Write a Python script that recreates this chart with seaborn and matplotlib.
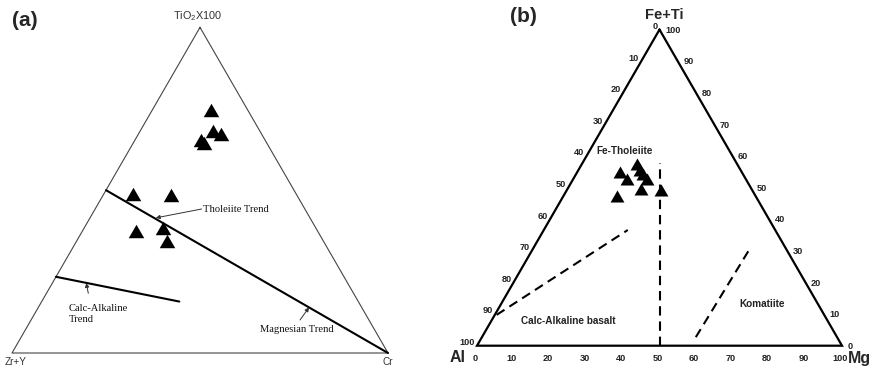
import numpy as np
import pandas as pd
import matplotlib
matplotlib.use("Agg")
import matplotlib.pyplot as plt
import seaborn as sns

# ---------------- data ----------------
# Panel (a): TiO2x100 - (Zr+Y) - Cr  (percent)
a_ti = [74.5, 68.3, 67.3, 65.4, 64.5, 48.7, 48.4, 37.6, 38.4, 34.3]
a_cr = [15.6, 19.4, 21.9, 17.6, 18.7, 7.8, 18.2, 14.3, 21.0, 24.0]
a_zry = [9.9, 12.3, 10.8, 17.0, 16.8, 43.5, 33.4, 48.1, 40.6, 41.7]
a_thol_ti = [50.0, 0.0]
a_thol_cr = [0.0, 100.0]
a_calc_ti = [23.4, 15.8]
a_calc_cr = [0.0, 36.6]

# Panel (b): (Fe+Ti) - Al - Mg  (percent)
b_feti = [55.0, 52.7, 57.5, 55.6, 54.2, 52.6, 49.7, 49.1, 47.4]
b_mg = [11.8, 14.8, 15.0, 16.8, 18.3, 20.2, 20.1, 25.9, 14.6]
b_al = [33.2, 32.5, 27.5, 27.6, 27.5, 27.2, 30.2, 25.0, 38.0]
b_vert_fe = [0.0, 57.8]
b_vert_mg = [50.0, 21.1]
b_calc_fe = [9.75, 36.6]
b_calc_mg = [0.5, 23.0]
b_koma_fe = [2.7, 30.5]
b_koma_mg = [58.6, 59.4]
b_ticks = [0, 10, 20, 30, 40, 50, 60, 70, 80, 90, 100]

# ---------------- helpers ----------------
W, H = 871, 371
R3 = np.sqrt(3) / 2


def tern(top, right):
    top = np.asarray(top, float) / 100.0
    right = np.asarray(right, float) / 100.0
    return right + top / 2.0, top * R3


def fp(x, y):
    return (x / W, 1 - y / H)


def make_ax(fig, left_px, base_px, side_px):
    ax = fig.add_axes([0, 0, 1, 1])
    ax.set_xlim(-left_px / side_px, (W - left_px) / side_px)
    ax.set_ylim(-(H - base_px) / side_px, base_px / side_px)
    ax.axis("off")
    ax.patch.set_alpha(0)
    return ax


sns.set_style("white")
plt.rcParams["font.family"] = ["Liberation Sans", "DejaVu Sans"]
plt.rcParams["mathtext.fontset"] = "custom"
plt.rcParams["mathtext.rm"] = "Liberation Sans"
plt.rcParams["mathtext.it"] = "Liberation Sans"

fig = plt.figure(figsize=(W / 100, H / 100), dpi=100)

tri_marker = [(0, 0.75), (-0.866, -0.75), (0.866, -0.75), (0, 0.75)]

# ================= Panel (a) =================
axa = make_ax(fig, 12, 353, 376)
ex, ey = tern([100, 0, 0, 100], [0, 0, 100, 0])
axa.plot(ex, ey, color="#444444", lw=0.8, clip_on=False)

x, y = tern(a_thol_ti, a_thol_cr)
axa.plot(x, y, color="black", lw=1.5, clip_on=False)
x, y = tern(a_calc_ti, a_calc_cr)
axa.plot(x, y, color="black", lw=1.5, clip_on=False)

px, py = tern(a_ti, a_cr)
dfa = pd.DataFrame({"x": px, "y": py})
sns.scatterplot(data=dfa, x="x", y="y", ax=axa, marker=tri_marker, s=125,
                color="black", edgecolor="black", linewidth=0, legend=False,
                clip_on=False)

serif = ["Liberation Serif", "DejaVu Serif"]
arrow = dict(arrowstyle="-|>", lw=0.7, color="#333333", mutation_scale=6,
             shrinkA=0, shrinkB=0)
for tip, tail in [((41.5, 17.5), (201.7, 209.0)),
                  ((21.5, 9.0), (88.3, 293.3)),
                  ((14.0, 72.0), (300.0, 320.0))]:
    tx, ty = tern(tip[0], tip[1])
    axa.annotate("", xy=(tx, ty), xycoords="data",
                 xytext=fp(*tail), textcoords="figure fraction",
                 arrowprops=arrow)
fig.text(*fp(203, 209.5), "Tholeiite Trend", ha="left", va="center",
         fontsize=7.6, family=serif, color="#111111")
fig.text(*fp(69, 314), "Calc-Alkaline\nTrend", ha="left", va="center",
         fontsize=7.6, family=serif, color="#111111", linespacing=1.15)
fig.text(*fp(296.7, 329.5), "Magnesian Trend", ha="center", va="center",
         fontsize=7.6, family=serif, color="#111111")

fig.text(*fp(198, 16), r"TiO$_{2}$X100", ha="center", va="center",
         fontsize=7.8, color="#333333")
fig.text(*fp(5, 362), "Zr+Y", ha="left", va="center", fontsize=7.2,
         color="#333333")
fig.text(*fp(388, 362), "Cr", ha="center", va="center", fontsize=7.2,
         color="#333333")
fig.text(*fp(25, 21), "(a)", ha="center", va="center", fontsize=15,
         fontweight="bold")

# ================= Panel (b) =================
axb = make_ax(fig, 477, 345.7, 365)
ex, ey = tern([100, 0, 0, 100], [0, 0, 100, 0])
axb.plot(ex, ey, color="black", lw=1.6, clip_on=False, solid_joinstyle="miter")

dash = (0, (4.5, 2.8))
for fe, mg in [(b_vert_fe, b_vert_mg), (b_calc_fe, b_calc_mg),
               (b_koma_fe, b_koma_mg)]:
    x, y = tern(fe, mg)
    axb.plot(x, y, color="black", lw=1.5, linestyle=dash, clip_on=False)

px, py = tern(b_feti, b_mg)
dfb = pd.DataFrame({"x": px, "y": py})
sns.scatterplot(data=dfb, x="x", y="y", ax=axb, marker=tri_marker, s=100,
                color="black", edgecolor="black", linewidth=0, legend=False,
                clip_on=False)

tick_kw = dict(fontsize=6.6, fontweight="bold", color="#222222")
for t in b_ticks:
    # left edge: Al %, 0 at apex, 100 at Al corner
    x, y = tern(100 - t, 0)
    axb.annotate(str(t), xy=(x, y), xytext=(-1.5, 0.5),
                 textcoords="offset points", ha="right", va="baseline",
                 **tick_kw)
    # right edge: Fe+Ti %, 100 at apex, 0 at Mg corner
    x, y = tern(t, 100 - t)
    axb.annotate(str(t), xy=(x, y), xytext=(4, -0.5),
                 textcoords="offset points", ha="left", va="center",
                 **tick_kw)
    # bottom edge: Mg %
    x, y = tern(0, t)
    axb.annotate(str(t), xy=(x, y), xytext=(-1.5, -9),
                 textcoords="offset points", ha="center", va="center",
                 **tick_kw)

fig.text(*fp(625, 150.5), "Fe-Tholeiite", ha="center", va="center",
         fontsize=7.2, fontweight="bold", color="#222222")
fig.text(*fp(568, 320.7), "Calc-Alkaline basalt", ha="center", va="center",
         fontsize=7.2, fontweight="bold", color="#222222")
fig.text(*fp(762, 304), "Komatiite", ha="center", va="center",
         fontsize=7.2, fontweight="bold", color="#222222")

fig.text(*fp(664, 15), "Fe+Ti", ha="center", va="center", fontsize=10.5,
         fontweight="bold")
fig.text(*fp(458, 358), "Al", ha="center", va="center", fontsize=11.5,
         fontweight="bold")
fig.text(*fp(859, 358), "Mg", ha="center", va="center", fontsize=11.5,
         fontweight="bold")
fig.text(*fp(523, 17), "(b)", ha="center", va="center", fontsize=15,
         fontweight="bold")

fig.savefig("out.png", dpi=100, facecolor="white")
